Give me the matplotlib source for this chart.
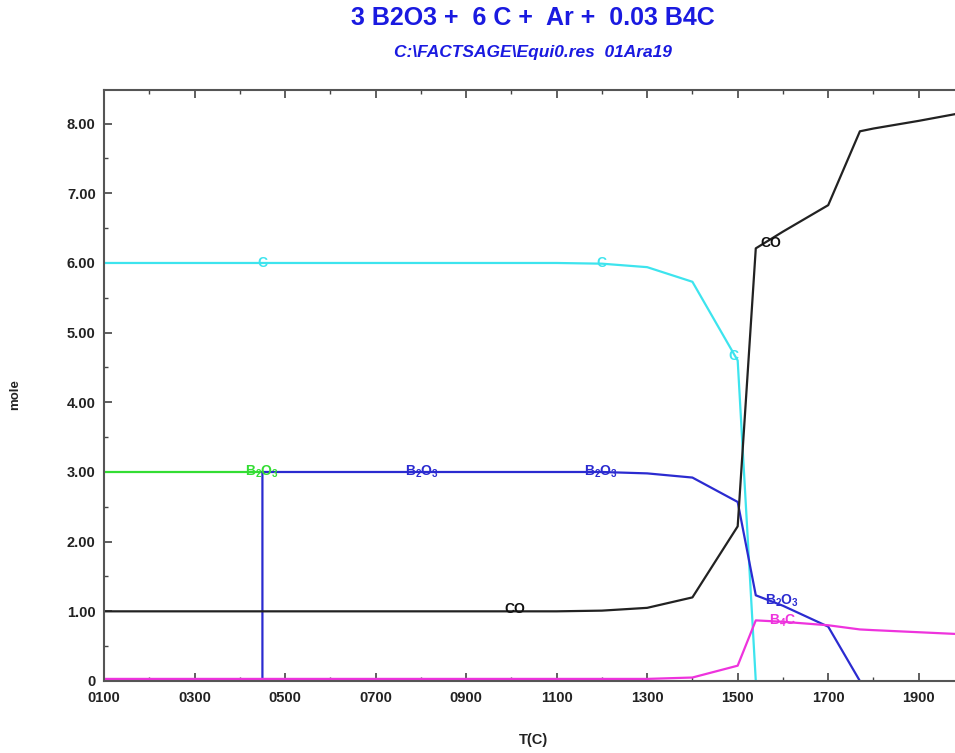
import matplotlib.pyplot as plt
from matplotlib.ticker import MultipleLocator, FixedLocator, FuncFormatter

plt.rcParams["font.family"] = ["Liberation Sans", "DejaVu Sans"]
plt.rcParams["mathtext.fontset"] = "custom"
plt.rcParams["mathtext.rm"] = "Liberation Sans:bold"
plt.rcParams["mathtext.it"] = "Liberation Sans:bold"

# T(C) grids
t_co = [100, 200, 300, 400, 500, 600, 700, 800, 900, 1000, 1100, 1200, 1300,
        1400, 1500, 1540, 1600, 1700, 1770, 1800, 1900, 2000]
co = [1.0, 1.0, 1.0, 1.0, 1.0, 1.0, 1.0, 1.0, 1.0, 1.0, 1.0, 1.01, 1.05,
      1.2, 2.22, 6.21, 6.45, 6.83, 7.89, 7.93, 8.04, 8.16]

t_c = [100, 200, 300, 400, 500, 600, 700, 800, 900, 1000, 1100, 1200, 1300,
       1400, 1500, 1540]
c = [6.0, 6.0, 6.0, 6.0, 6.0, 6.0, 6.0, 6.0, 6.0, 6.0, 6.0, 5.99, 5.94,
     5.73, 4.6, 0.0]

t_b2o3_s = [100, 200, 300, 400, 450]
b2o3_s = [3.0, 3.0, 3.0, 3.0, 3.0]

t_b2o3_l = [450, 450, 500, 600, 700, 800, 900, 1000, 1100, 1200, 1300, 1400,
            1500, 1540, 1600, 1700, 1770]
b2o3_l = [0.0, 3.0, 3.0, 3.0, 3.0, 3.0, 3.0, 3.0, 3.0, 3.0, 2.98, 2.92,
          2.57, 1.23, 1.08, 0.78, 0.0]

t_b4c = [100, 200, 300, 400, 500, 600, 700, 800, 900, 1000, 1100, 1200, 1300,
         1400, 1500, 1540, 1600, 1700, 1770, 1800, 1900, 2000]
b4c = [0.03, 0.03, 0.03, 0.03, 0.03, 0.03, 0.03, 0.03, 0.03, 0.03, 0.03,
       0.03, 0.03, 0.05, 0.22, 0.87, 0.85, 0.8, 0.74, 0.73, 0.7, 0.67]

# curve labels: (text, T, mole, colour)
labels = [
    ("C", 449, 6.0, "#3de4ee"),
    ("C", 1198, 6.0, "#3de4ee"),
    ("C", 1490, 4.66, "#3de4ee"),
    (r"B$_2$O$_3$", 449, 3.0, "#33dd33"),
    (r"B$_2$O$_3$", 803, 3.0, "#2b2bd0"),
    (r"B$_2$O$_3$", 1198, 3.0, "#2b2bd0"),
    (r"B$_2$O$_3$", 1598, 1.15, "#2b2bd0"),
    (r"B$_4$C", 1600, 0.86, "#ee33dd"),
    ("CO", 1008, 1.03, "#111111"),
    ("CO", 1574, 6.29, "#111111"),
]

fig = plt.figure(figsize=(9.55, 7.53), dpi=100)
ax = fig.add_axes([104 / 955, 72 / 753, 860 / 955, 591.5 / 753])

lw = 1.6
ax.plot(t_c, c, color="#3de4ee", lw=lw)
ax.plot(t_b2o3_s, b2o3_s, color="#33dd33", lw=lw)
ax.plot(t_b2o3_l, b2o3_l, color="#2b2bd0", lw=lw)
ax.plot(t_b4c, b4c, color="#ee33dd", lw=lw)
ax.plot(t_co, co, color="#222222", lw=lw)

for txt, x, y, col in labels:
    ax.text(x, y, txt, color=col, fontsize=10, fontweight="bold",
            ha="center", va="center")

ax.set_xlim(100, 2000)
ax.set_ylim(0, 8.49)
ax.xaxis.set_major_locator(FixedLocator(range(100, 2000, 200)))
ax.xaxis.set_minor_locator(FixedLocator(range(200, 2001, 200)))
ax.xaxis.set_major_formatter(FuncFormatter(lambda v, p: "%04d" % v))
ax.yaxis.set_major_locator(MultipleLocator(1))
ax.yaxis.set_minor_locator(MultipleLocator(0.5))
ax.yaxis.set_major_formatter(FuncFormatter(lambda v, p: "0" if v == 0 else "%.2f" % v))

ax.tick_params(which="both", direction="in", top=True, right=True,
               color="#444444", labelsize=10.5)
ax.tick_params(which="major", length=6, width=1.2)
ax.tick_params(which="minor", length=3, width=1.0)
ax.tick_params(axis="x", pad=7)
ax.tick_params(axis="y", pad=6)
for lab in ax.get_xticklabels() + ax.get_yticklabels():
    lab.set_fontweight("bold")
    lab.set_color("#222222")
for s in ax.spines.values():
    s.set_color("#555555")
    s.set_linewidth(1.5)

fig.text(533 / 955, 1 - 18 / 753, "3 B2O3 +  6 C +  Ar +  0.03 B4C",
         color="#1a1ae0", fontsize=18, fontweight="bold", ha="center", va="center")
fig.text(533 / 955, 1 - 53 / 753, r"C:\FACTSAGE\Equi0.res  01Ara19",
         color="#1a1ae0", fontsize=12.5, fontweight="bold", style="italic",
         ha="center", va="center")
fig.text(533 / 955, 1 - 740 / 753, "T(C)", fontsize=10.5, fontweight="bold",
         color="#222222", ha="center", va="center")
fig.text(15 / 955, 1 - 395 / 753, "mole", fontsize=9.5, fontweight="bold",
         color="#222222", rotation=90, ha="center", va="center")

fig.savefig("out.png", dpi=100)
